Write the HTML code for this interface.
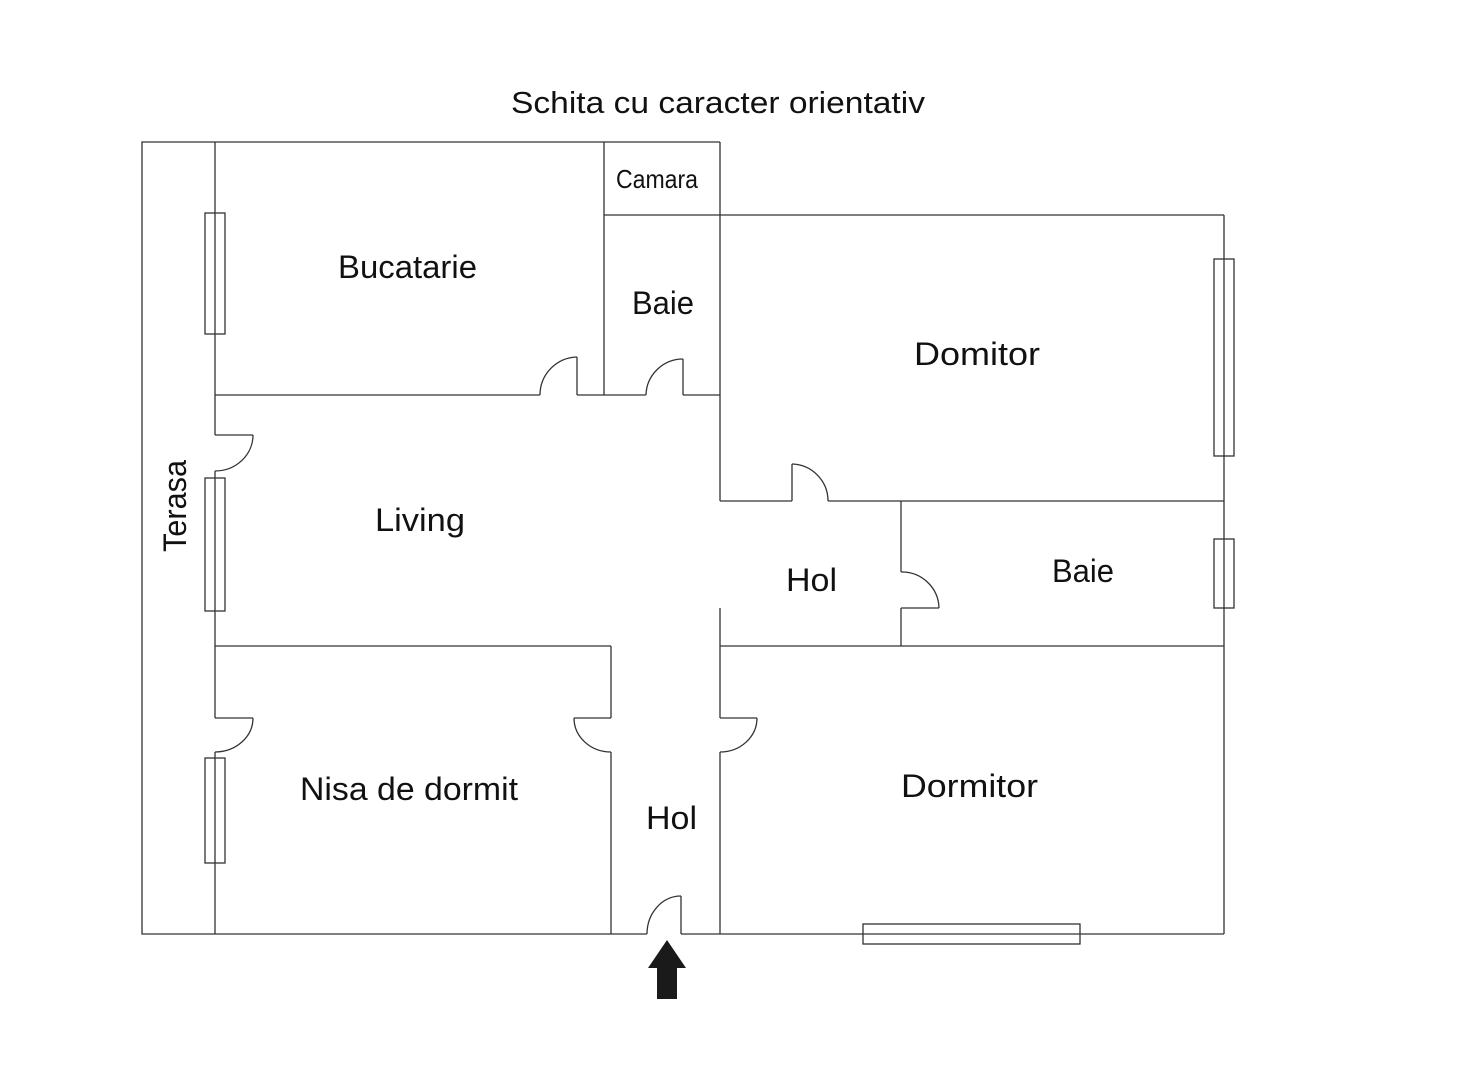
<!DOCTYPE html>
<html><head><meta charset="utf-8"><style>
html,body{margin:0;padding:0;background:#fff;}
svg{display:block;}
text{font-family:"Liberation Sans",sans-serif;fill:#111;}
</style></head><body>
<svg width="1458" height="1080" viewBox="0 0 1458 1080" xmlns="http://www.w3.org/2000/svg">
<g fill="none" stroke="#333" stroke-width="1.3">
<polyline points="215,142 142,142 142,934 647,934"/>
<line x1="681" y1="934" x2="1224" y2="934"/>
<line x1="215" y1="142" x2="720" y2="142"/>
<line x1="215" y1="142" x2="215" y2="435"/>
<line x1="215" y1="471" x2="215" y2="718"/>
<line x1="215" y1="752" x2="215" y2="934"/>
<line x1="604" y1="142" x2="604" y2="395"/>
<line x1="720" y1="142" x2="720" y2="501"/>
<line x1="604" y1="215" x2="1224" y2="215"/>
<line x1="1224" y1="215" x2="1224" y2="934"/>
<line x1="215" y1="395" x2="540" y2="395"/>
<line x1="577" y1="395" x2="646" y2="395"/>
<line x1="683" y1="395" x2="720" y2="395"/>
<line x1="577" y1="357" x2="577" y2="395"/>
<path d="M577,357 A38,38 0 0 0 540,395"/>
<line x1="683" y1="359" x2="683" y2="395"/>
<path d="M683,359 A37,37 0 0 0 646,395"/>
<line x1="720" y1="501" x2="792" y2="501"/>
<line x1="828" y1="501" x2="1224" y2="501"/>
<line x1="792" y1="464" x2="792" y2="501"/>
<path d="M792,464 A37,37 0 0 1 828,501"/>
<line x1="901" y1="501" x2="901" y2="572"/>
<line x1="901" y1="608" x2="901" y2="646"/>
<line x1="901" y1="608" x2="939" y2="608"/>
<path d="M901,572 A37,37 0 0 1 939,608"/>
<line x1="720" y1="646" x2="1224" y2="646"/>
<line x1="215" y1="646" x2="611" y2="646"/>
<line x1="720" y1="608" x2="720" y2="718"/>
<line x1="720" y1="752" x2="720" y2="934"/>
<line x1="720" y1="718" x2="757" y2="718"/>
<path d="M757,718 A37,34 0 0 1 720,752"/>
<line x1="611" y1="646" x2="611" y2="718"/>
<line x1="611" y1="752" x2="611" y2="934"/>
<line x1="574" y1="718" x2="611" y2="718"/>
<path d="M574,718 A37,34 0 0 0 611,752"/>
<line x1="215" y1="435" x2="253" y2="435"/>
<path d="M253,435 A38,36 0 0 1 215,471"/>
<line x1="215" y1="718" x2="253" y2="718"/>
<path d="M253,718 A38,34 0 0 1 215,752"/>
<line x1="681" y1="896" x2="681" y2="934"/>
<path d="M681,896 A34,38 0 0 0 647,934"/>
<rect x="205" y="213" width="20" height="121"/>
<rect x="205" y="478" width="20" height="133"/>
<rect x="205" y="758" width="20" height="105"/>
<rect x="1214" y="259" width="20" height="197"/>
<rect x="1214" y="539" width="20" height="69"/>
<rect x="863" y="924" width="217" height="20"/>
</g>
<polygon points="667,940 686,968 677,968 677,999 657,999 657,968 648,968" fill="#1a1a1a"/>
<text x="511" y="113" font-size="31" textLength="414" lengthAdjust="spacingAndGlyphs">Schita cu caracter orientativ</text>
<text x="616" y="188" font-size="26" textLength="82" lengthAdjust="spacingAndGlyphs">Camara</text>
<text x="338" y="278" font-size="32" textLength="139" lengthAdjust="spacingAndGlyphs">Bucatarie</text>
<text x="632" y="314" font-size="32" textLength="62" lengthAdjust="spacingAndGlyphs">Baie</text>
<text x="914" y="365" font-size="32" textLength="126" lengthAdjust="spacingAndGlyphs">Domitor</text>
<text x="375" y="531" font-size="32" textLength="90" lengthAdjust="spacingAndGlyphs">Living</text>
<text x="786" y="591" font-size="32" textLength="51" lengthAdjust="spacingAndGlyphs">Hol</text>
<text x="1052" y="582" font-size="32" textLength="62" lengthAdjust="spacingAndGlyphs">Baie</text>
<text x="300" y="800" font-size="32" textLength="218" lengthAdjust="spacingAndGlyphs">Nisa de dormit</text>
<text x="646" y="829" font-size="32" textLength="51" lengthAdjust="spacingAndGlyphs">Hol</text>
<text x="901" y="797" font-size="32" textLength="137" lengthAdjust="spacingAndGlyphs">Dormitor</text>
<text transform="translate(186,552) rotate(-90)" font-size="32" textLength="92" lengthAdjust="spacingAndGlyphs">Terasa</text>
</svg>
</body></html>
